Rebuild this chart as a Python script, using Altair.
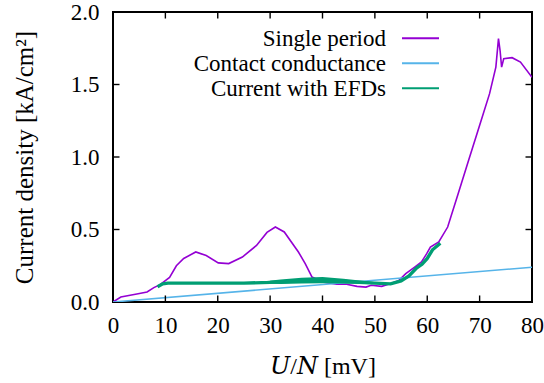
import altair as alt
import pandas as pd

# Single period
sp_x = [0, 1.5, 4.8, 6.5, 7.8, 9.0, 10.8, 12.1, 13.5, 15.8, 17.8, 20.1, 22.1, 24.7, 27.4, 29.4, 31.0,
        32.7, 35.4, 36.7, 38.0, 40.0, 42.7, 44.6, 46.6, 48.3, 49.3, 51.3, 52.9, 54.6, 55.9, 57.6,
        58.9, 59.9, 60.6, 62.2, 63.9, 65.9, 67.9, 69.9, 71.9, 73.1, 73.6, 73.9, 74.2, 74.6, 76.2, 77.8, 80]
sp_y = [0, 0.034, 0.057, 0.069, 0.099, 0.12, 0.17, 0.25, 0.30, 0.345, 0.32, 0.27, 0.265, 0.31, 0.39, 0.48, 0.517,
        0.483, 0.345, 0.265, 0.172, 0.138, 0.122, 0.122, 0.108, 0.103, 0.115, 0.108, 0.126, 0.149, 0.195, 0.241,
        0.276, 0.333, 0.379, 0.414, 0.517, 0.747, 0.977, 1.207, 1.437, 1.62, 1.816, 1.736, 1.62, 1.678, 1.685, 1.655, 1.55]

# Contact conductance
cc_x = [0, 80]
cc_y = [0, 0.24]

# Current with EFDs (centre line)
ef_x = [8.5, 9.5, 10.5, 15, 20, 25, 30, 35, 40, 45, 50, 53, 55, 56.5, 58, 59, 60, 61, 62.5]
ef_y = [0.105, 0.125, 0.13, 0.13, 0.13, 0.13, 0.135, 0.145, 0.15, 0.14, 0.13, 0.125, 0.145, 0.18, 0.235, 0.26, 0.3, 0.36, 0.405]
# Current with EFDs (oscillation band)
band_x = [28, 32, 36, 40, 44, 48, 51]
band_lo = [0.127, 0.125, 0.127, 0.13, 0.128, 0.125, 0.125]
band_hi = [0.14, 0.155, 0.168, 0.172, 0.16, 0.145, 0.133]

x_ticks = [0, 10, 20, 30, 40, 50, 60, 70, 80]
y_ticks = [0.0, 0.5, 1.0, 1.5, 2.0]

names = ["Single period", "Contact conductance", "Current with EFDs"]
colors = ["#9400D3", "#56B4E9", "#009E73"]

FONT = "Liberation Serif, DejaVu Serif, serif"
FS = 23

rows = []
for x, y in zip(sp_x, sp_y):
    rows.append({"x": x, "y": y, "s": names[0], "o": len(rows)})
for x, y in zip(cc_x, cc_y):
    rows.append({"x": x, "y": y, "s": names[1], "o": len(rows)})
for x, y in zip(ef_x, ef_y):
    rows.append({"x": x, "y": y, "s": names[2], "o": len(rows)})
df = pd.DataFrame(rows)
band = pd.DataFrame({"x": band_x, "lo": band_lo, "hi": band_hi})
leg = pd.DataFrame({"s": names, "row": list(range(len(names)))})

xs = alt.Scale(domain=[0, 80], nice=False, zero=False)
ys = alt.Scale(domain=[0, 2.0], nice=False, zero=False)
cscale = alt.Scale(domain=names, range=colors)

xaxis = alt.Axis(values=x_ticks, format="d", title="𝑈/𝑁 [mV]", labelPadding=12, ticks=False,
                 domain=False, grid=False, titlePadding=17, labelFlush=False, titleFontSize=24)
yaxis = alt.Axis(values=y_ticks, format=".1f", title="Current density [kA/cm²]", labelPadding=14,
                 ticks=False, domain=False, grid=False, titlePadding=33, labelFlush=False,
                 titleFontSize=25)

lines = alt.Chart(df).mark_line(clip=True).encode(
    x=alt.X("x:Q", scale=xs, axis=xaxis),
    y=alt.Y("y:Q", scale=ys, axis=yaxis),
    color=alt.Color("s:N", scale=cscale, legend=None),
    order="o:Q",
    strokeWidth=alt.condition(alt.datum.s == names[2], alt.value(3.4), alt.value(1.6)),
)

area = alt.Chart(band).mark_area(color=colors[2], clip=True).encode(
    x=alt.X("x:Q", scale=xs), y=alt.Y("lo:Q", scale=ys), y2="hi:Q")

tly = 0.045
tlx = 1.24
xt = pd.DataFrame({"x": x_ticks[1:-1]})
yt = pd.DataFrame({"y": y_ticks[1:-1]})
tk_style = dict(color="black", strokeWidth=1.4)
tb = alt.Chart(xt).mark_rule(**tk_style).encode(x=alt.X("x:Q", scale=xs), y=alt.datum(0), y2=alt.datum(tly))
tt = alt.Chart(xt).mark_rule(**tk_style).encode(x=alt.X("x:Q", scale=xs), y=alt.datum(2.0), y2=alt.datum(2.0 - tly))
tlft = alt.Chart(yt).mark_rule(**tk_style).encode(y=alt.Y("y:Q", scale=ys), x=alt.datum(0), x2=alt.datum(tlx))
trgt = alt.Chart(yt).mark_rule(**tk_style).encode(y=alt.Y("y:Q", scale=ys), x=alt.datum(80), x2=alt.datum(80 - tlx))

plot = alt.layer(lines, area, tb, tt, tlft, trgt)

# Legend (labels to the left of the line samples, top right of the plot)
rowy = alt.Y("row:O", scale=alt.Scale(type="point", domain=[0, 1, 2], range=[26.3, 76.3], padding=0), axis=None)
leg_text = alt.Chart(leg).mark_text(align="right", baseline="middle", font=FONT, fontSize=FS,
                                    color="black", dy=1).encode(
    x=alt.value(273), y=rowy, text="s:N")
leg_line = alt.Chart(leg).mark_rule(strokeWidth=2).encode(
    x=alt.value(289), x2=alt.value(326), y=rowy,
    color=alt.Color("s:N", scale=cscale, legend=None))
legend = alt.layer(leg_line, leg_text)

chart = alt.layer(plot, legend).resolve_scale(
    y="independent"
).properties(
    width=419, height=290,
    autosize=alt.AutoSizeParams(type="none"),
    padding={"left": 113, "top": 12, "right": 12, "bottom": 81},
    background="white",
).configure_view(stroke="black", strokeWidth=2).configure_axis(
    labelFont=FONT, titleFont=FONT, labelFontSize=FS,
    labelColor="black", titleColor="black", titleFontWeight="normal",
)

chart.save("out.html", embed_options={"renderer": "svg", "actions": False})
